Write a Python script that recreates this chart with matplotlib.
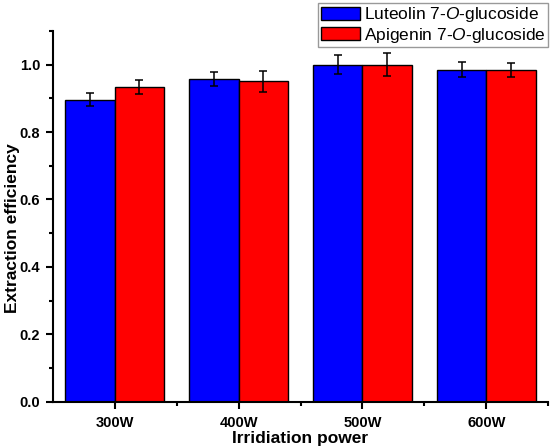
import matplotlib
matplotlib.use("Agg")
import matplotlib.pyplot as plt
import numpy as np
from matplotlib.ticker import MultipleLocator, FixedLocator

categories = ["300W", "400W", "500W", "600W"]
luteolin = [0.896, 0.957, 1.000, 0.985]
luteolin_err = [0.019, 0.021, 0.028, 0.022]
apigenin = [0.933, 0.951, 1.000, 0.983]
apigenin_err = [0.020, 0.031, 0.033, 0.021]
series_names = ["Luteolin 7-$\\mathit{O}$-glucoside", "Apigenin 7-$\\mathit{O}$-glucoside"]
yticks = [0, 0.2, 0.4, 0.6, 0.8, 1.0]
ytick_labels = ["0.0", "0.2", "0.4", "0.6", "0.8", "1.0"]

plt.rcParams['font.family'] = ['Liberation Sans', 'DejaVu Sans']
plt.rcParams['mathtext.fontset'] = 'custom'
plt.rcParams['mathtext.it'] = 'Liberation Sans:italic'
plt.rcParams['mathtext.rm'] = 'Liberation Sans'

fig = plt.figure(figsize=(5.5, 4.48), dpi=100)
ax = fig.add_axes([0.0958, 0.1033, 0.9012, 0.8277])

x = np.arange(1, len(categories) + 1)
w = 0.4
ax.bar(x - w / 2, luteolin, w, color="#0000FF", edgecolor="black", linewidth=1.0,
       yerr=luteolin_err, error_kw=dict(ecolor="black", elinewidth=1.1, capsize=3, capthick=1.1),
       label=series_names[0], zorder=2)
ax.bar(x + w / 2, apigenin, w, color="#FF0000", edgecolor="black", linewidth=1.0,
       yerr=apigenin_err, error_kw=dict(ecolor="black", elinewidth=1.1, capsize=3, capthick=1.1),
       label=series_names[1], zorder=2)

ax.set_xlim(0.5, 4.5)
ax.set_ylim(0, 1.1)
ax.set_xticks(x)
ax.set_xticklabels(categories, fontweight="bold", fontsize=10.5)
ax.xaxis.set_minor_locator(FixedLocator([1.5, 2.5, 3.5, 4.5]))
ax.yaxis.set_major_locator(FixedLocator(yticks))
ax.yaxis.set_minor_locator(MultipleLocator(0.1))
ax.set_yticklabels(ytick_labels, fontweight="bold", fontsize=10.5)

for s in ["top", "right"]:
    ax.spines[s].set_visible(False)
for s in ["left", "bottom"]:
    ax.spines[s].set_linewidth(1.5)
ax.tick_params(which="major", direction="out", length=5, width=1.5)
ax.tick_params(axis="x", which="major", pad=5)
ax.tick_params(axis="y", which="major", pad=4)
ax.tick_params(which="minor", direction="out", length=3, width=1.5)

ax.set_xlabel("Irridiation power", fontweight="bold", fontsize=12.5, labelpad=1)
ax.set_ylabel("Extraction efficiency", fontweight="bold", fontsize=12.5)
ax.yaxis.set_label_coords(-0.066, 0.469)

leg = ax.legend(loc="upper right", bbox_to_anchor=(0.997, 0.994), bbox_transform=fig.transFigure,
                fontsize=12.5, frameon=True, fancybox=False, edgecolor="#808080",
                handlelength=2.25, handleheight=0.75, handletextpad=0.25, labelspacing=0.08,
                borderpad=0.15, borderaxespad=0)
leg.get_frame().set_linewidth(1.0)
for p in leg.get_patches():
    p.set_linewidth(1.0)

fig.savefig("out.png", dpi=100)
